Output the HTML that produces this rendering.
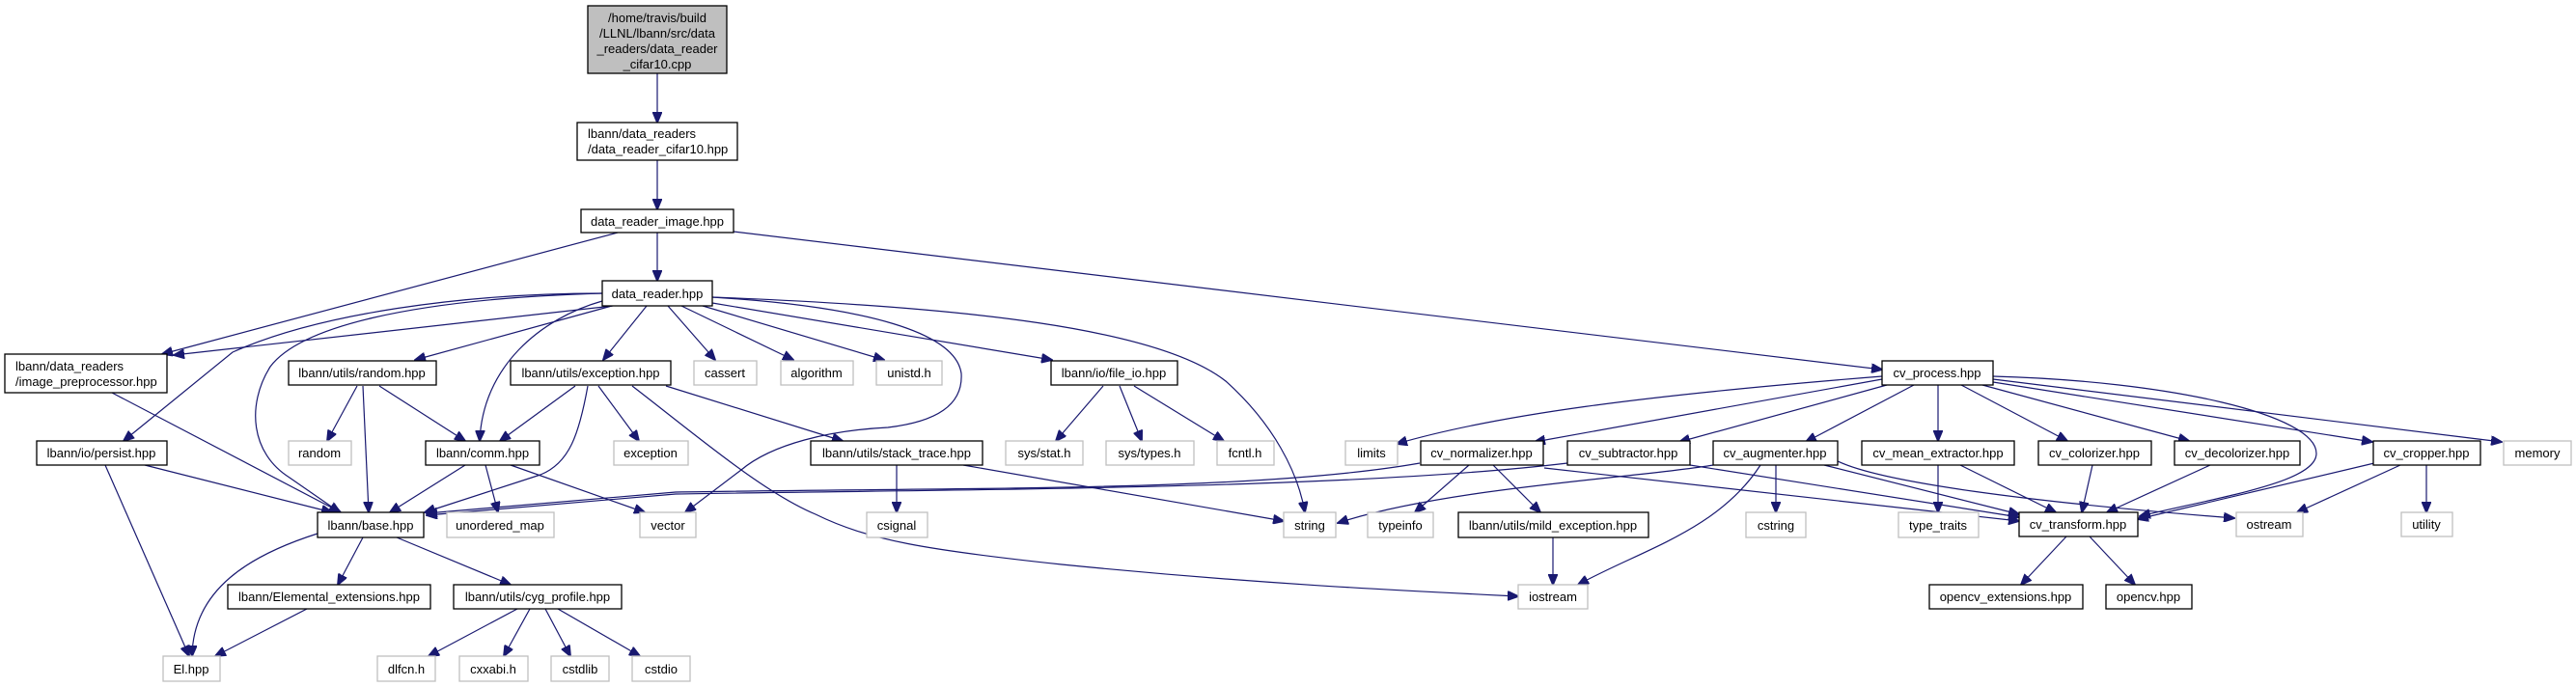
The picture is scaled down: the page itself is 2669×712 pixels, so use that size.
<!DOCTYPE html>
<html><head><meta charset="utf-8"><style>
html,body{margin:0;padding:0;background:#fff;}
svg{display:block;}
text{font-family:"Liberation Sans",sans-serif;font-size:13px;fill:#000;}
.b{fill:#fff;stroke:#000;stroke-width:1.3;}
.g{fill:#fff;stroke:#bfbfbf;stroke-width:1.3;}
.e{fill:none;stroke:#191970;stroke-width:1.2;marker-end:url(#a);}
</style></head><body>
<svg width="2669" height="712" viewBox="0 0 2669 712" xmlns="http://www.w3.org/2000/svg">
<defs><marker id="a" markerUnits="userSpaceOnUse" markerWidth="12" markerHeight="10" refX="11" refY="5" orient="auto"><path d="M0,0 L12,5 L0,10 z" fill="#191970" stroke="#191970"/></marker></defs>

<!-- edges -->
<path class="e" d="M681,76 L681,127"/>
<path class="e" d="M681,166 L681,217"/>
<path class="e" d="M681,241 L681,291"/>
<path class="e" d="M640,241 L168,367"/>
<path class="e" d="M760,240 L1950,383"/>
<path class="e" d="M635,317 L180,368"/>
<path class="e" d="M624,304 C480,304 330,325 241,365 L128,457"/>
<path class="e" d="M624,304 C420,310 310,340 280,380 C255,420 260,470 300,495 L352,531"/>
<path class="e" d="M624,312 C560,330 500,380 497,457"/>
<path class="e" d="M634,317 L430,373"/>
<path class="e" d="M670,317 L625,373"/>
<path class="e" d="M692,317 L741,373"/>
<path class="e" d="M706,317 L822,373"/>
<path class="e" d="M728,317 L916,373"/>
<path class="e" d="M738,314 L1090,373"/>
<path class="e" d="M738,308 C900,318 990,345 996,387 C998,420 970,437 920,443 C860,446 800,460 768,487 L710,531"/>
<path class="e" d="M738,308 C1000,318 1200,340 1270,395 C1320,440 1345,490 1352,531"/>
<path class="e" d="M370,400 L339,457"/>
<path class="e" d="M376,400 L382,531"/>
<path class="e" d="M393,400 L482,457"/>
<path class="e" d="M596,400 L518,457"/>
<path class="e" d="M609,400 C600,450 590,480 560,492 L440,531"/>
<path class="e" d="M620,400 L662,457"/>
<path class="e" d="M690,400 L873,457"/>
<path class="e" d="M655,400 C720,450 790,510 845,533 C900,560 960,570 1100,585 C1300,605 1450,612 1573,618"/>
<path class="e" d="M482,482 L404,531"/>
<path class="e" d="M503,482 L516,531"/>
<path class="e" d="M529,482 L668,531"/>
<path class="e" d="M116,407 L353,531"/>
<path class="e" d="M150,482 L344,531"/>
<path class="e" d="M109,482 L196,680"/>
<path class="e" d="M329,553 C260,575 200,610 199,680"/>
<path class="e" d="M376,557 L350,606"/>
<path class="e" d="M411,557 L529,606"/>
<path class="e" d="M318,631 L223,680"/>
<path class="e" d="M536,631 L444,680"/>
<path class="e" d="M549,631 L522,680"/>
<path class="e" d="M565,631 L591,680"/>
<path class="e" d="M578,631 L663,680"/>
<path class="e" d="M929,482 L929,531"/>
<path class="e" d="M998,482 L1330,540"/>
<path class="e" d="M1143,482 L1094,457" style="display:none"/>
<path class="e" d="M1143,400 L1094,457"/>
<path class="e" d="M1160,400 L1183,457"/>
<path class="e" d="M1175,400 L1268,457"/>
<path class="e" d="M1950,390 C1700,410 1550,430 1447,460"/>
<path class="e" d="M1950,393 L1590,458"/>
<path class="e" d="M1955,399 L1740,458"/>
<path class="e" d="M1983,399 L1871,458"/>
<path class="e" d="M2008,399 L2008,457"/>
<path class="e" d="M2032,399 L2142,457"/>
<path class="e" d="M2054,399 L2268,457"/>
<path class="e" d="M2065,396 L2458,458"/>
<path class="e" d="M2065,393 L2592,458"/>
<path class="e" d="M2065,390 C2250,395 2400,430 2400,470 C2400,500 2300,515 2217,535"/>
<path class="e" d="M2008,482 L2008,531"/>
<path class="e" d="M2031,482 L2130,531"/>
<path class="e" d="M2168,482 L2157,531"/>
<path class="e" d="M2290,482 L2183,531"/>
<path class="e" d="M2460,480 L2215,538"/>
<path class="e" d="M2487,482 L2380,531"/>
<path class="e" d="M2514,482 L2514,531"/>
<path class="e" d="M2141,556 L2094,606"/>
<path class="e" d="M2165,556 L2212,606"/>
<path class="e" d="M1471,480 C1300,510 1000,505 700,510 L442,532"/>
<path class="e" d="M1624,480 C1400,507 1000,507 700,512 L442,534"/>
<path class="e" d="M1522,482 L1466,531"/>
<path class="e" d="M1547,482 L1596,531"/>
<path class="e" d="M1600,485 L2092,540"/>
<path class="e" d="M1751,482 L2092,536"/>
<path class="e" d="M1775,482 C1700,495 1500,505 1386,542"/>
<path class="e" d="M1840,482 L1840,531"/>
<path class="e" d="M1824,482 C1780,550 1700,570 1635,606"/>
<path class="e" d="M1890,482 L2092,533"/>
<path class="e" d="M1904,478 C1950,500 2100,520 2315,537"/>
<path class="e" d="M1609,557 L1609,606"/>

<!-- nodes -->
<rect x="609" y="6" width="144" height="70" fill="#bfbfbf" stroke="#000" stroke-width="1.3"/>
<text x="681" y="23" text-anchor="middle">/home/travis/build</text>
<text x="681" y="39" text-anchor="middle">/LLNL/lbann/src/data</text>
<text x="681" y="55" text-anchor="middle">_readers/data_reader</text>
<text x="681" y="71" text-anchor="middle">_cifar10.cpp</text>

<rect class="b" x="598" y="127" width="166" height="39"/>
<text x="609" y="143">lbann/data_readers</text>
<text x="609" y="159">/data_reader_cifar10.hpp</text>

<rect class="b" x="602" y="217" width="158" height="24"/><text x="681" y="234" text-anchor="middle">data_reader_image.hpp</text>
<rect class="b" x="624" y="291" width="114" height="26"/><text x="681" y="309" text-anchor="middle">data_reader.hpp</text>

<rect class="b" x="5" y="367" width="168" height="40"/>
<text x="16" y="384">lbann/data_readers</text>
<text x="16" y="400">/image_preprocessor.hpp</text>

<rect class="b" x="299" y="374" width="153" height="25"/><text x="375" y="391" text-anchor="middle">lbann/utils/random.hpp</text>
<rect class="b" x="529" y="374" width="166" height="25"/><text x="612" y="391" text-anchor="middle">lbann/utils/exception.hpp</text>
<rect class="g" x="719" y="374" width="65" height="25"/><text x="751" y="391" text-anchor="middle">cassert</text>
<rect class="g" x="809" y="374" width="75" height="25"/><text x="846" y="391" text-anchor="middle">algorithm</text>
<rect class="g" x="908" y="374" width="68" height="25"/><text x="942" y="391" text-anchor="middle">unistd.h</text>
<rect class="b" x="1089" y="374" width="131" height="25"/><text x="1154" y="391" text-anchor="middle">lbann/io/file_io.hpp</text>
<rect class="b" x="1950" y="374" width="115" height="25"/><text x="2007" y="391" text-anchor="middle">cv_process.hpp</text>

<rect class="b" x="38" y="457" width="135" height="25"/><text x="105" y="474" text-anchor="middle">lbann/io/persist.hpp</text>
<rect class="g" x="299" y="457" width="65" height="25"/><text x="331" y="474" text-anchor="middle">random</text>
<rect class="b" x="441" y="457" width="118" height="25"/><text x="500" y="474" text-anchor="middle">lbann/comm.hpp</text>
<rect class="g" x="636" y="457" width="77" height="25"/><text x="674" y="474" text-anchor="middle">exception</text>
<rect class="b" x="840" y="457" width="178" height="25"/><text x="929" y="474" text-anchor="middle">lbann/utils/stack_trace.hpp</text>
<rect class="g" x="1042" y="457" width="80" height="25"/><text x="1082" y="474" text-anchor="middle">sys/stat.h</text>
<rect class="g" x="1146" y="457" width="91" height="25"/><text x="1191" y="474" text-anchor="middle">sys/types.h</text>
<rect class="g" x="1261" y="457" width="59" height="25"/><text x="1290" y="474" text-anchor="middle">fcntl.h</text>
<rect class="g" x="1394" y="457" width="54" height="25"/><text x="1421" y="474" text-anchor="middle">limits</text>
<rect class="b" x="1472" y="457" width="127" height="25"/><text x="1535" y="474" text-anchor="middle">cv_normalizer.hpp</text>
<rect class="b" x="1624" y="457" width="127" height="25"/><text x="1687" y="474" text-anchor="middle">cv_subtractor.hpp</text>
<rect class="b" x="1775" y="457" width="129" height="25"/><text x="1839" y="474" text-anchor="middle">cv_augmenter.hpp</text>
<rect class="b" x="1929" y="457" width="158" height="25"/><text x="2008" y="474" text-anchor="middle">cv_mean_extractor.hpp</text>
<rect class="b" x="2112" y="457" width="117" height="25"/><text x="2170" y="474" text-anchor="middle">cv_colorizer.hpp</text>
<rect class="b" x="2253" y="457" width="130" height="25"/><text x="2318" y="474" text-anchor="middle">cv_decolorizer.hpp</text>
<rect class="b" x="2459" y="457" width="111" height="25"/><text x="2514" y="474" text-anchor="middle">cv_cropper.hpp</text>
<rect class="g" x="2594" y="457" width="70" height="25"/><text x="2629" y="474" text-anchor="middle">memory</text>

<rect class="b" x="329" y="531" width="110" height="26"/><text x="384" y="549" text-anchor="middle">lbann/base.hpp</text>
<rect class="g" x="463" y="531" width="111" height="26"/><text x="518" y="549" text-anchor="middle">unordered_map</text>
<rect class="g" x="663" y="531" width="58" height="26"/><text x="692" y="549" text-anchor="middle">vector</text>
<rect class="g" x="898" y="531" width="63" height="26"/><text x="929" y="549" text-anchor="middle">csignal</text>
<rect class="g" x="1330" y="531" width="54" height="26"/><text x="1357" y="549" text-anchor="middle">string</text>
<rect class="g" x="1417" y="531" width="68" height="26"/><text x="1451" y="549" text-anchor="middle">typeinfo</text>
<rect class="b" x="1511" y="531" width="197" height="26"/><text x="1609" y="549" text-anchor="middle">lbann/utils/mild_exception.hpp</text>
<rect class="g" x="1809" y="531" width="62" height="26"/><text x="1840" y="549" text-anchor="middle">cstring</text>
<rect class="g" x="1967" y="531" width="83" height="26"/><text x="2008" y="549" text-anchor="middle">type_traits</text>
<rect class="b" x="2092" y="531" width="123" height="25"/><text x="2153" y="548" text-anchor="middle">cv_transform.hpp</text>
<rect class="g" x="2317" y="531" width="69" height="25"/><text x="2351" y="548" text-anchor="middle">ostream</text>
<rect class="g" x="2488" y="531" width="53" height="25"/><text x="2514" y="548" text-anchor="middle">utility</text>

<rect class="b" x="236" y="606" width="210" height="25"/><text x="341" y="623" text-anchor="middle">lbann/Elemental_extensions.hpp</text>
<rect class="b" x="470" y="606" width="174" height="25"/><text x="557" y="623" text-anchor="middle">lbann/utils/cyg_profile.hpp</text>
<rect class="g" x="1573" y="606" width="72" height="25"/><text x="1609" y="623" text-anchor="middle">iostream</text>
<rect class="b" x="1999" y="606" width="159" height="25"/><text x="2078" y="623" text-anchor="middle">opencv_extensions.hpp</text>
<rect class="b" x="2182" y="606" width="89" height="25"/><text x="2226" y="623" text-anchor="middle">opencv.hpp</text>

<rect class="g" x="169" y="680" width="59" height="26"/><text x="198" y="698" text-anchor="middle">El.hpp</text>
<rect class="g" x="391" y="680" width="60" height="26"/><text x="421" y="698" text-anchor="middle">dlfcn.h</text>
<rect class="g" x="476" y="680" width="71" height="26"/><text x="511" y="698" text-anchor="middle">cxxabi.h</text>
<rect class="g" x="571" y="680" width="60" height="26"/><text x="601" y="698" text-anchor="middle">cstdlib</text>
<rect class="g" x="655" y="680" width="60" height="26"/><text x="685" y="698" text-anchor="middle">cstdio</text>
</svg>
</body></html>
